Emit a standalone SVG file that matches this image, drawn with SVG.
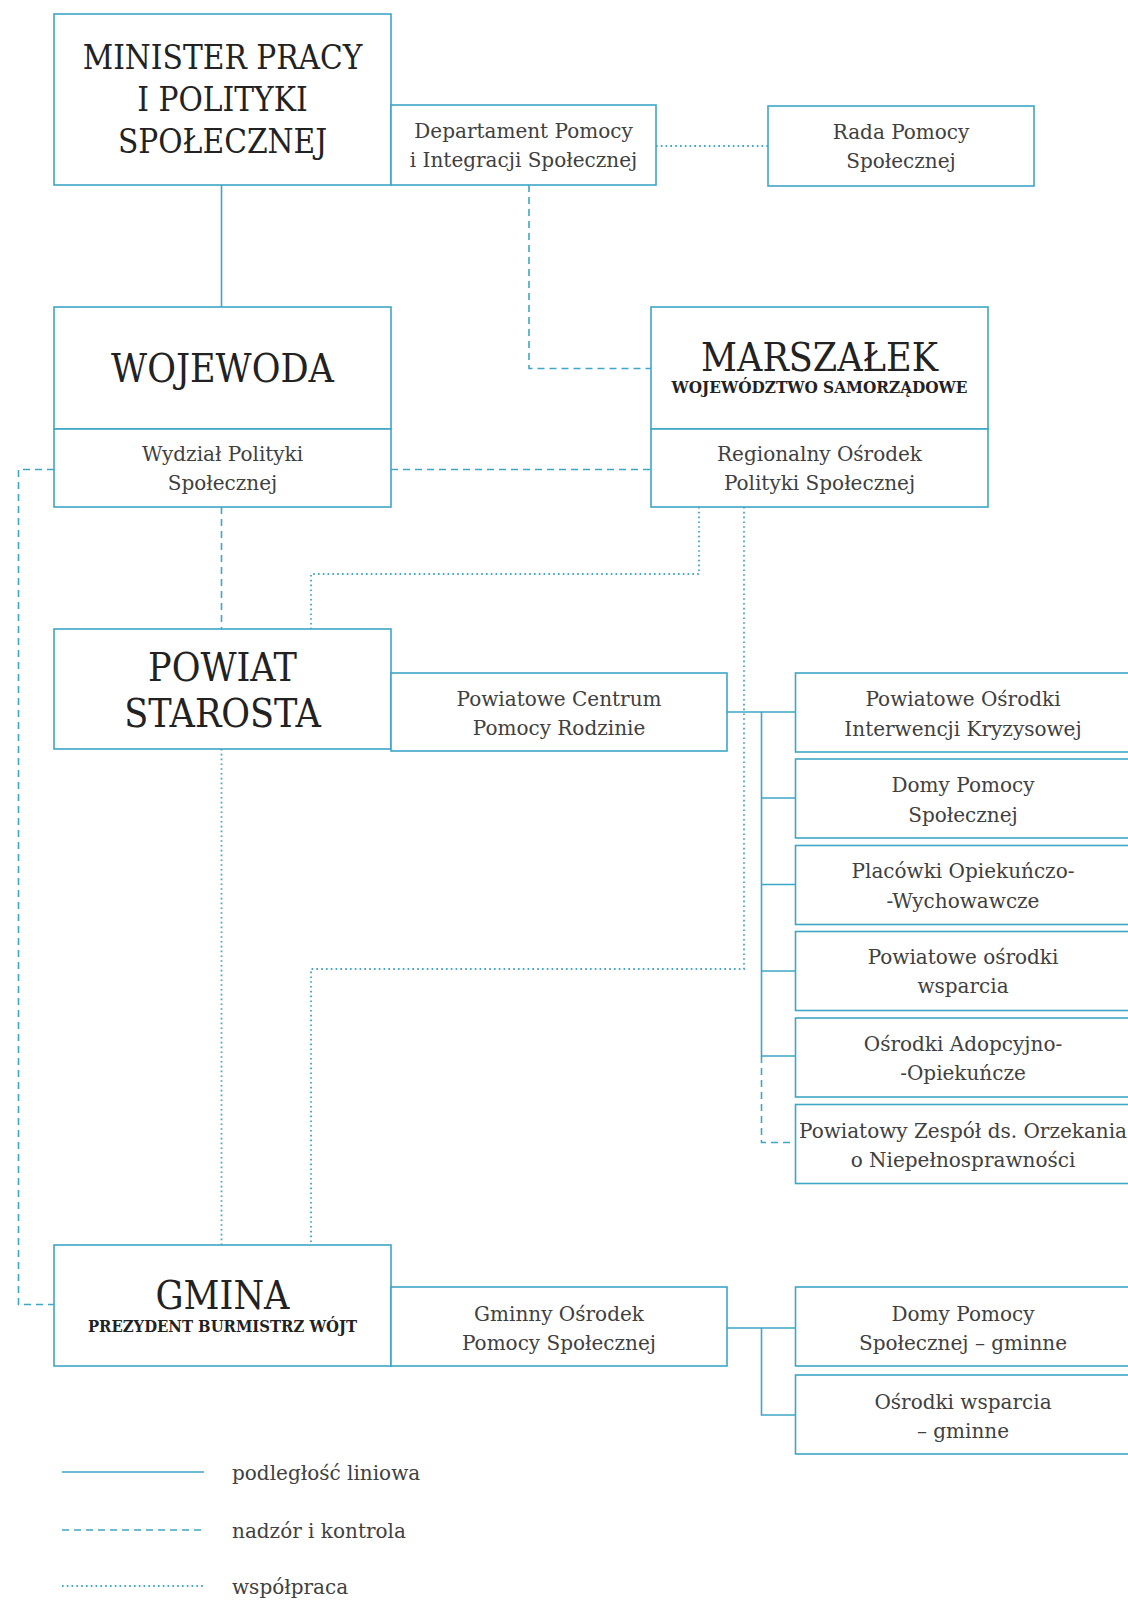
<svg xmlns="http://www.w3.org/2000/svg" width="1128" height="1600" viewBox="0 0 1128 1600">
<style>
.box{fill:#fff;stroke:#3ea6c6;stroke-width:1.6}
.ln{fill:none;stroke:#3ea6c6;stroke-width:1.6}
.da{stroke-dasharray:7 5}
.dt{stroke-dasharray:1.6 3.2;stroke-width:1.8}
.t{font-family:"DejaVu Serif","Liberation Serif",serif;font-size:20px;fill:#404040;text-anchor:middle}
.h{font-family:"DejaVu Serif Condensed","DejaVu Serif","Liberation Serif",serif;font-stretch:condensed;fill:#222;text-anchor:middle}
.s{font-family:"DejaVu Serif Condensed","DejaVu Serif","Liberation Serif",serif;font-stretch:condensed;fill:#222;text-anchor:middle;font-weight:bold}
.lg{font-family:"DejaVu Serif","Liberation Serif",serif;font-size:20px;fill:#404040}
</style>
<rect width="1128" height="1600" fill="#fff"/>
<g id="connectors">
<path class="ln" d="M221.5,185V307"/>
<path class="ln dt" d="M656,146H768"/>
<path class="ln da" d="M529,185V368.5H651"/>
<path class="ln da" d="M391,469.5H651"/>
<path class="ln da" d="M54,469.5H18.5V1304.5H54"/>
<path class="ln da" d="M221.5,507V629"/>
<path class="ln dt" d="M699,507V574H311V629"/>
<path class="ln dt" d="M744,507V969H311V1245"/>
<path class="ln dt" d="M221.5,749V1245"/>
<path class="ln" d="M727,712H795M761.5,712V1056H795M761.5,798H795M761.5,884.5H795M761.5,971H795"/>
<path class="ln da" d="M761.5,1056V1142.5H795"/>
<path class="ln" d="M727,1328H795M761.5,1328V1415H795"/>
</g>
<g id="minister">
<rect class="box" x="54" y="14" width="337" height="171"/>
<text class="h" font-size="33" x="222.5" y="69">MINISTER PRACY</text>
<text class="h" font-size="33" x="222.5" y="111">I POLITYKI</text>
<text class="h" font-size="33" x="222.5" y="153">SPOŁECZNEJ</text>
</g>
<g id="departament">
<rect class="box" x="391" y="105" width="265" height="80"/>
<text class="t" x="523.5" y="138">Departament Pomocy</text>
<text class="t" x="523.5" y="167">i Integracji Społecznej</text>
</g>
<g id="rada">
<rect class="box" x="768" y="106" width="266" height="80"/>
<text class="t" x="901" y="139">Rada Pomocy</text>
<text class="t" x="901" y="168">Społecznej</text>
</g>
<g id="wojewoda">
<rect class="box" x="54" y="307" width="337" height="122"/>
<text class="h" font-size="39" x="222.5" y="382">WOJEWODA</text>
</g>
<g id="wydzial">
<rect class="box" x="54" y="429" width="337" height="78"/>
<text class="t" x="222.5" y="461">Wydział Polityki</text>
<text class="t" x="222.5" y="490">Społecznej</text>
</g>
<g id="marszalek">
<rect class="box" x="651" y="307" width="337" height="122"/>
<text class="h" font-size="39" x="819.5" y="371">MARSZAŁEK</text>
<text class="s" font-size="17" x="819.5" y="393">WOJEWÓDZTWO SAMORZĄDOWE</text>
</g>
<g id="rops">
<rect class="box" x="651" y="429" width="337" height="78"/>
<text class="t" x="819.5" y="461">Regionalny Ośrodek</text>
<text class="t" x="819.5" y="490">Polityki Społecznej</text>
</g>
<g id="powiat">
<rect class="box" x="54" y="629" width="337" height="120"/>
<text class="h" font-size="39" x="222.5" y="681">POWIAT</text>
<text class="h" font-size="39" x="222.5" y="727">STAROSTA</text>
</g>
<g id="pcpr">
<rect class="box" x="391" y="673" width="336" height="78"/>
<text class="t" x="559" y="706">Powiatowe Centrum</text>
<text class="t" x="559" y="735">Pomocy Rodzinie</text>
</g>
<g id="poik">
<rect class="box" x="795.5" y="673" width="337" height="79"/>
<text class="t" x="963" y="706">Powiatowe Ośrodki</text>
<text class="t" x="963" y="736">Interwencji Kryzysowej</text>
</g>
<g id="dps">
<rect class="box" x="795.5" y="759" width="337" height="79"/>
<text class="t" x="963" y="792">Domy Pomocy</text>
<text class="t" x="963" y="822">Społecznej</text>
</g>
<g id="pow">
<rect class="box" x="795.5" y="845.5" width="337" height="79"/>
<text class="t" x="963" y="878">Placówki Opiekuńczo-</text>
<text class="t" x="963" y="908">-Wychowawcze</text>
</g>
<g id="pos">
<rect class="box" x="795.5" y="931.5" width="337" height="79"/>
<text class="t" x="963" y="964">Powiatowe ośrodki</text>
<text class="t" x="963" y="993">wsparcia</text>
</g>
<g id="oao">
<rect class="box" x="795.5" y="1018" width="337" height="79"/>
<text class="t" x="963" y="1051">Ośrodki Adopcyjno-</text>
<text class="t" x="963" y="1080">-Opiekuńcze</text>
</g>
<g id="pzo">
<rect class="box" x="795.5" y="1104.5" width="337" height="79"/>
<text class="t" x="963" y="1138">Powiatowy Zespół ds. Orzekania</text>
<text class="t" x="963" y="1167">o Niepełnosprawności</text>
</g>
<g id="gmina">
<rect class="box" x="54" y="1245" width="337" height="121"/>
<text class="h" font-size="39" x="222.5" y="1309">GMINA</text>
<text class="s" font-size="16.5" x="222.5" y="1332">PREZYDENT BURMISTRZ WÓJT</text>
</g>
<g id="gops">
<rect class="box" x="391" y="1287" width="336" height="79"/>
<text class="t" x="559" y="1321">Gminny Ośrodek</text>
<text class="t" x="559" y="1350">Pomocy Społecznej</text>
</g>
<g id="dpsg">
<rect class="box" x="795.5" y="1287" width="337" height="79"/>
<text class="t" x="963" y="1321">Domy Pomocy</text>
<text class="t" x="963" y="1350">Społecznej – gminne</text>
</g>
<g id="osg">
<rect class="box" x="795.5" y="1375" width="337" height="79"/>
<text class="t" x="963" y="1409">Ośrodki wsparcia</text>
<text class="t" x="963" y="1438">– gminne</text>
</g>
<g id="legend">
<path class="ln" d="M62,1472H204"/>
<path class="ln da" d="M62,1530H204"/>
<path class="ln dt" d="M62,1586H204"/>
<text class="lg" x="232" y="1480">podległość liniowa</text>
<text class="lg" x="232" y="1538">nadzór i kontrola</text>
<text class="lg" x="232" y="1594">współpraca</text>
</g>
</svg>
